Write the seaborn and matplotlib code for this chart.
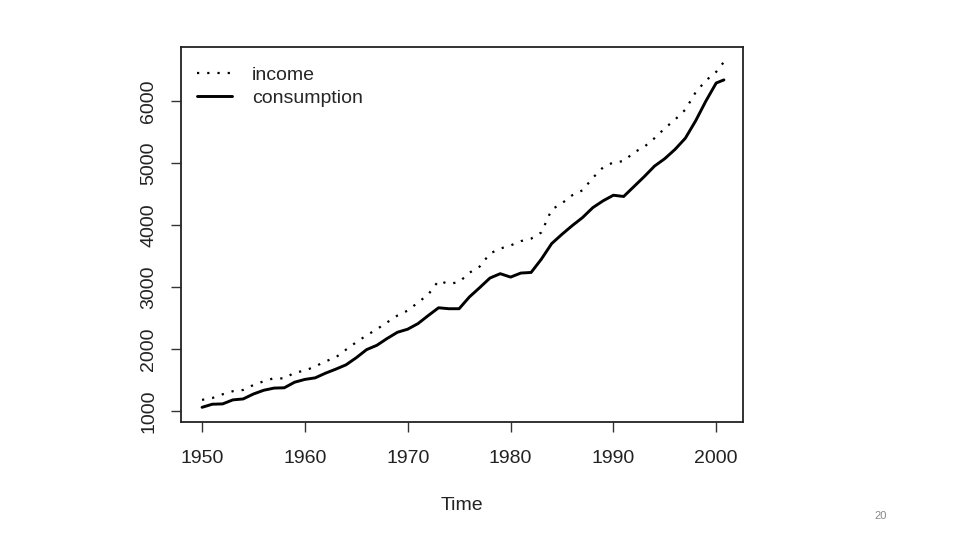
import seaborn as sns
import matplotlib.pyplot as plt
import pandas as pd

# values
years = [1950, 1951, 1952, 1953, 1954, 1955, 1956, 1957, 1958, 1959,
         1960, 1961, 1962, 1963, 1964, 1965, 1966, 1967, 1968, 1969,
         1970, 1971, 1972, 1973, 1974, 1975, 1976, 1977, 1978, 1979,
         1980, 1981, 1982, 1983, 1984, 1985, 1986, 1987, 1988, 1989,
         1990, 1991, 1992, 1993, 1994, 1995, 1996, 1997, 1998, 1999,
         2000, 2000.75]
income = [1180, 1210, 1270, 1320, 1340, 1420, 1480, 1530, 1525, 1620,
          1650, 1720, 1800, 1865, 1990, 2110, 2220, 2320, 2430, 2540,
          2620, 2750, 2880, 3100, 3050, 3080, 3230, 3330, 3540, 3620,
          3670, 3740, 3780, 3880, 4250, 4350, 4480, 4560, 4760, 4930,
          5010, 5030, 5170, 5260, 5400, 5560, 5700, 5860, 6140, 6330,
          6470, 6630]
consumption = [1060, 1110, 1115, 1180, 1195, 1275, 1335, 1370, 1375, 1465,
               1510, 1535, 1610, 1675, 1745, 1860, 1990, 2060, 2170, 2270,
               2320, 2410, 2540, 2665, 2650, 2650, 2840, 2990, 3145, 3215,
               3160, 3225, 3235, 3450, 3700, 3850, 3990, 4120, 4280, 4390,
               4480, 4460, 4620, 4780, 4950, 5070, 5220, 5400, 5680, 6000,
               6290, 6340]
x_ticks = [1950, 1960, 1970, 1980, 1990, 2000]
y_ticks = [1000, 2000, 3000, 4000, 5000, 6000]

df = pd.DataFrame({"Time": years, "income": income, "consumption": consumption})

sns.set_style("ticks")
plt.rcParams["font.family"] = ["Liberation Sans", "DejaVu Sans"]

fig = plt.figure(figsize=(9.6, 5.4), dpi=100)
ax = fig.add_axes([0.1885, 0.2185, 0.5854, 0.6944])

sns.lineplot(data=df, x="Time", y="income", ax=ax, color="black",
             linewidth=1.6, linestyle=(0, (1, 3.6)), label="income")
sns.lineplot(data=df, x="Time", y="consumption", ax=ax, color="black",
             linewidth=2.1, label="consumption")

ax.set_xlim(1947.95, 2002.6)
ax.set_ylim(823, 6870)
ax.set_xticks(x_ticks)
ax.set_yticks(y_ticks)
ax.set_yticklabels([str(v) for v in y_ticks], rotation=90, va="center")
ax.tick_params(axis="both", labelsize=14, length=7, width=1, color="#333333",
               labelcolor="#222222")
ax.tick_params(axis="x", pad=13.5)
ax.tick_params(axis="y", pad=10)
for s in ax.spines.values():
    s.set_visible(True)
    s.set_linewidth(1.3)
    s.set_color("#222222")

ax.set_xlabel("Time", fontsize=14, color="#222222", labelpad=21)
ax.set_ylabel("")

ax.legend(loc="upper left", bbox_to_anchor=(0.0, 0.991), frameon=False,
          fontsize=14, handlelength=1.8, handletextpad=1.05,
          borderaxespad=0.4, labelspacing=0.3)

fig.text(0.917, 0.038, "20", fontsize=8, color="#888888", ha="center")

plt.savefig("out.png", dpi=100)
plt.close()
